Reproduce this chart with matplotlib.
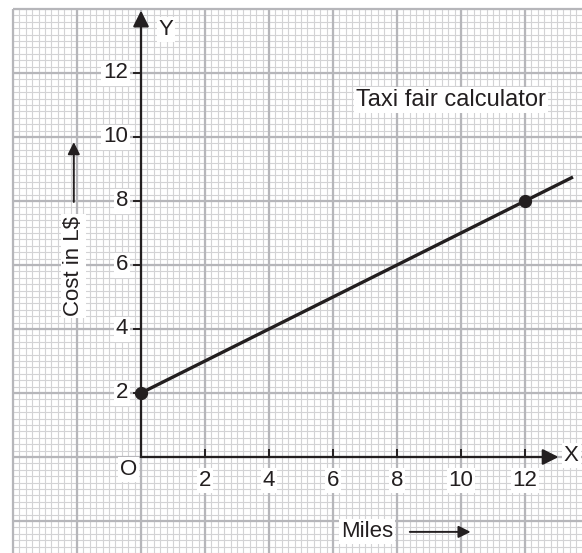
import numpy as np
import matplotlib
matplotlib.use("Agg")
import matplotlib.pyplot as plt

plt.rcParams['font.family'] = ['Liberation Sans', 'DejaVu Sans']

# data
miles = [0, 12]
cost = [2, 8]
line_miles = [0, 13.5]
line_cost = [2, 8.75]
x_ticks = [2, 4, 6, 8, 10, 12]
y_ticks = [2, 4, 6, 8, 10, 12]

ink = '#231f20'
white_box = dict(facecolor='white', edgecolor='none', pad=1.5)

fig = plt.figure(figsize=(5.82, 5.53), dpi=100)
ax = fig.add_axes([0, 0, 1, 1])
ax.set_xlim(-141 / 32, 441 / 32)
ax.set_ylim(-96 / 32, 457 / 32)
ax.axis('off')

# graph paper: fine lines every 0.2, heavy lines every 2
gx0, gy1 = -4, 14
xr, yb = 441 / 32 + 0.1, -96 / 32 - 0.1
minor_x = gx0 + np.arange(0, 90) * 0.2
minor_y = gy1 - np.arange(0, 90) * 0.2
ax.vlines(minor_x, yb, gy1, color='#d3d3d5', lw=0.8, zorder=0)
ax.hlines(minor_y, gx0, xr, color='#d3d3d5', lw=0.8, zorder=0)
ax.vlines(np.arange(gx0, 14, 2), yb, gy1, color='#b6b6ba', lw=1.6, zorder=0)
ax.hlines(np.arange(-2, 15, 2), gx0, xr, color='#b6b6ba', lw=1.6, zorder=0)

# axes with arrows
arrow = dict(arrowstyle='-|>', mutation_scale=24, lw=1.6, color=ink, shrinkA=0, shrinkB=0)
ax.annotate('', xy=(13.05, 0), xytext=(0, 0), arrowprops=arrow, zorder=3)
ax.annotate('', xy=(0, 13.95), xytext=(0, 0), arrowprops=arrow, zorder=3)

# ticks
for t in x_ticks:
    ax.plot([t, t], [0, 0.22], color=ink, lw=1.4, zorder=3)
    ax.text(t, -0.72, str(t), fontsize=16, ha='center', va='center', color=ink, bbox=white_box)
for t in y_ticks:
    ax.plot([-0.22, 0], [t, t], color=ink, lw=1.4, zorder=3)
    ax.text(-0.4, t, str(t), fontsize=16, ha='right', va='center', color=ink, bbox=white_box)

ax.text(-0.38, -0.4, 'O', fontsize=16, ha='center', va='center', color=ink, bbox=white_box)
ax.text(13.45, 0.06, 'X', fontsize=16, ha='center', va='center', color=ink, bbox=white_box)
ax.text(0.78, 13.35, 'Y', fontsize=16, ha='center', va='center', color=ink, bbox=white_box)

# fare line
ax.plot(line_miles, line_cost, color=ink, lw=2.4, zorder=4, solid_capstyle='butt')
ax.plot(miles, cost, 'o', color=ink, ms=8.5, zorder=5)

ax.text(6.72, 11.16, 'Taxi fair calculator', fontsize=17, ha='left', va='center',
        color=ink, bbox=white_box)

# axis titles
small_arrow = dict(arrowstyle='-|>', mutation_scale=18, lw=1.4, color=ink,
                   shrinkA=0, shrinkB=0)
ax.text(-2.12, 5.97, 'Cost in L$', fontsize=16, rotation=90, ha='center', va='center',
        color=ink, bbox=white_box)
ax.annotate('', xy=(-2.1, 9.84), xytext=(-2.1, 7.97), arrowprops=small_arrow, zorder=3)
ax.text(7.06, -2.34, 'Miles', fontsize=16, ha='center', va='center', color=ink, bbox=white_box)
ax.annotate('', xy=(10.3, -2.34), xytext=(8.4, -2.34), arrowprops=small_arrow, zorder=3)

fig.savefig('out.png', dpi=100)
